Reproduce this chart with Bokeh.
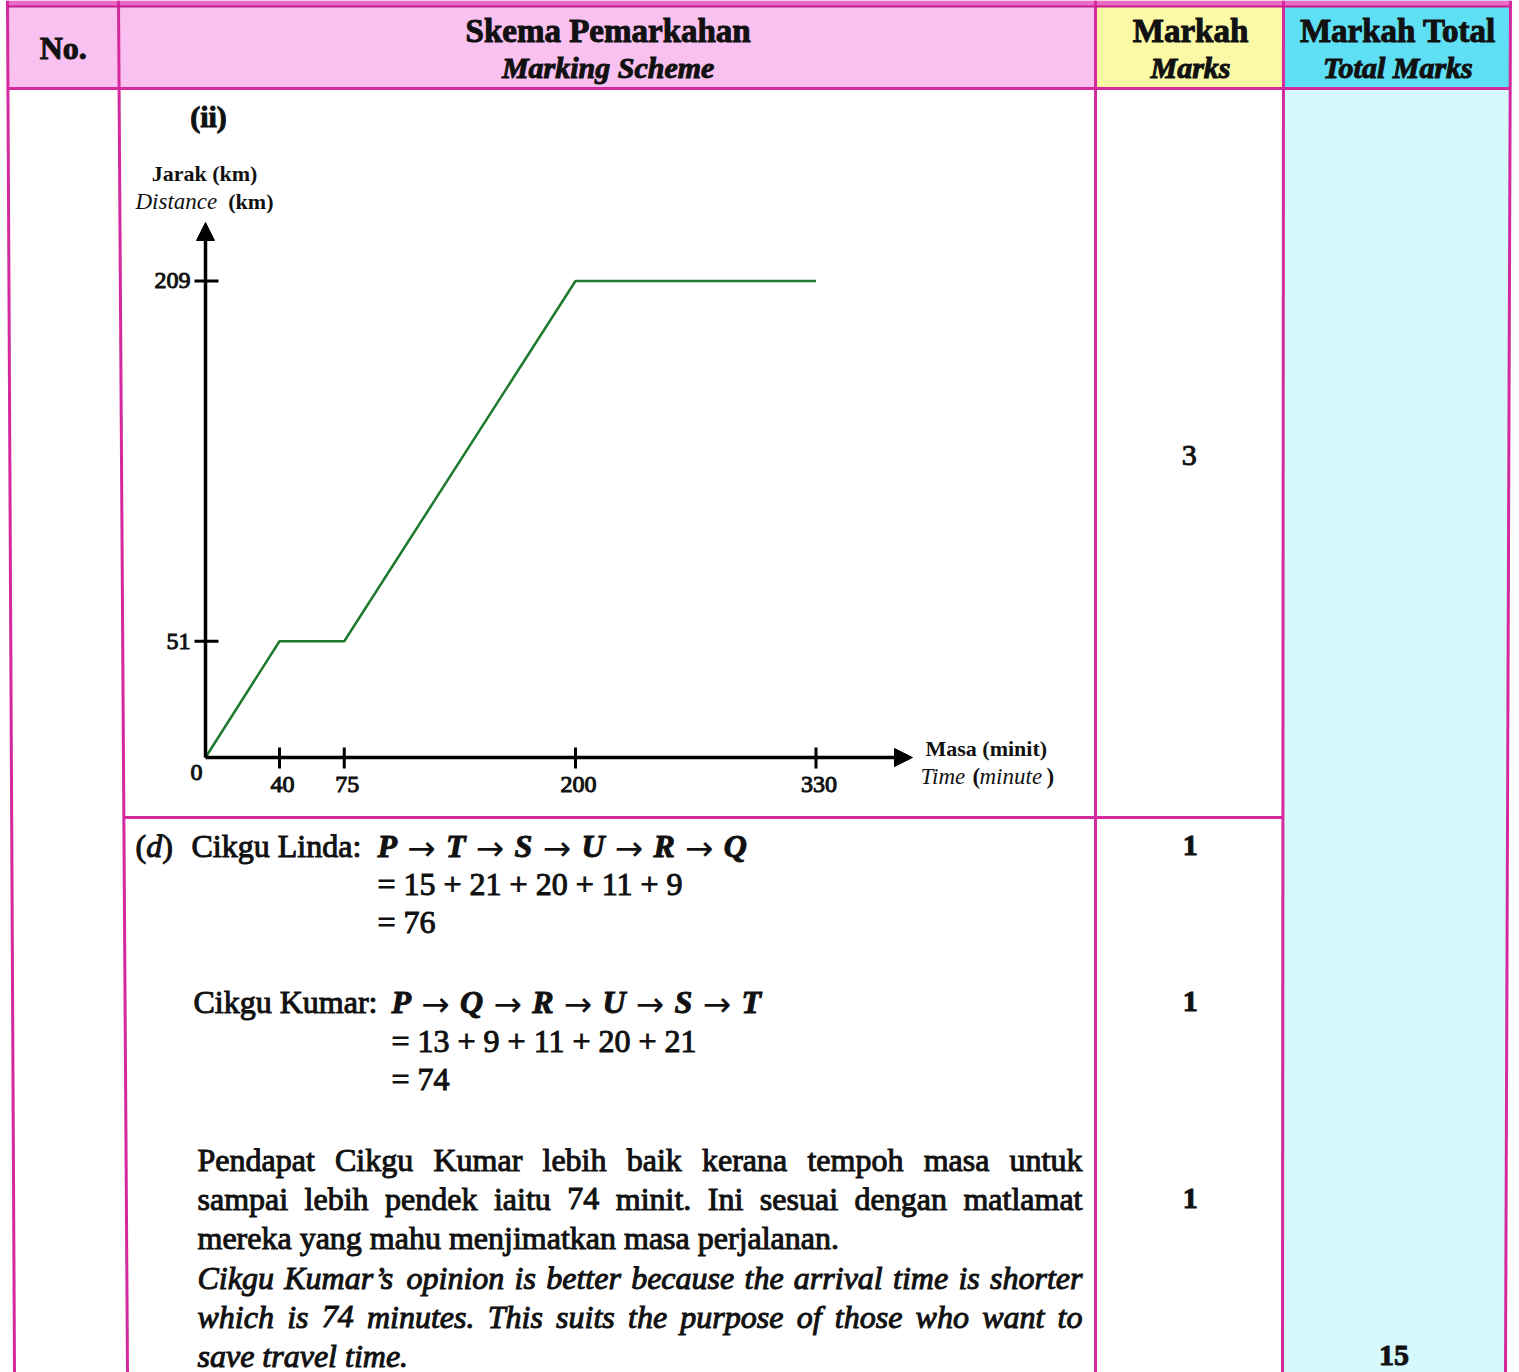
from bokeh.plotting import figure
from bokeh.models import Range1d, Arrow, NormalHead
from bokeh.core.properties import value
from bokeh.embed import file_html
from bokeh.resources import INLINE

# ---------------- data ----------------
# distance-time graph of the journey
time_min = [0, 40, 75, 200, 330]
distance_km = [0, 51, 51, 209, 209]
time_ticks = [40, 75, 200, 330]
distance_ticks = [51, 209]

# routes and the length of each leg
linda_route = ["P", "T", "S", "U", "R", "Q"]
linda_legs = [15, 21, 20, 11, 9]
kumar_route = ["P", "Q", "R", "U", "S", "T"]
kumar_legs = [13, 9, 11, 20, 21]

# marks
graph_marks = 3
step_marks = [1, 1, 1]
total_marks = 15

# header texts
header_bm = ["No.", "Skema Pemarkahan", "Markah", "Markah Total"]
header_en = ["", "Marking Scheme", "Marks", "Total Marks"]

# conclusion paragraph, line by line
para_ms = [
    "Pendapat Cikgu Kumar lebih baik kerana tempoh masa untuk",
    "sampai lebih pendek iaitu 74 minit. Ini sesuai dengan matlamat",
    "mereka yang mahu menjimatkan masa perjalanan.",
]
para_en = [
    "Cikgu Kumar\u2019s opinion is better because the arrival time is shorter",
    "which is 74 minutes. This suits the purpose of those who want to",
    "save travel time.",
]

# ---------------- page geometry ----------------
W, H = 1519, 1372
FONT = "Liberation Serif"
INK = "#111111"
BORDER = "#d42a9e"

# column rules (x at top, x at bottom: the sheet is slightly out of square)
COL_TOP = [7, 118, 1095, 1283, 1510]
COL_BOT = [14, 127, 1095, 1282, 1505]
HEADER_Y = 88
SPLIT_Y = 817


def col_x(i, y):
    return COL_TOP[i] + (COL_BOT[i] - COL_TOP[i]) * y / H


# graph placement: origin in page pixels and pixels per unit
ORIGIN_X, ORIGIN_Y = 205, 757
X_SCALE = 1.85   # px per minute
Y_SCALE = 2.28   # px per km
X_ARROW_TIP = 912
Y_ARROW_TIP = 222

p = figure(width=W, height=H, x_range=Range1d(0, W), y_range=Range1d(H, 0),
           output_backend="svg", toolbar_location=None,
           x_axis_location=None, y_axis_location=None, min_border=0,
           outline_line_color=None, background_fill_color="white",
           border_fill_color="white")
p.xgrid.visible = False
p.ygrid.visible = False

p.extra_x_ranges = {"time": Range1d(-ORIGIN_X / X_SCALE, (W - ORIGIN_X) / X_SCALE)}
p.extra_y_ranges = {"dist": Range1d((ORIGIN_Y - H) / Y_SCALE, ORIGIN_Y / Y_SCALE)}


def band(i0, i1, y0, y1):
    return ([col_x(i0, y0), col_x(i1, y0), col_x(i1, y1), col_x(i0, y1)],
            [y0, y0, y1, y1])


# ---------------- table fills ----------------
fills = [
    (band(0, 2, 0, HEADER_Y), "#f9c1ef"),
    (band(2, 3, 0, HEADER_Y), "#fbf9a6"),
    (band(3, 4, 0, HEADER_Y), "#5fdff3"),
    (band(3, 4, HEADER_Y, H), "#d6f9fc"),
    (band(0, 4, 0, 6), "#e86cc6"),
]
p.patches([f[0][0] for f in fills], [f[0][1] for f in fills],
          fill_color=[f[1] for f in fills], line_color=None)

# ---------------- table rules ----------------
v_xs = [[col_x(i, 0), col_x(i, H)] for i in range(5)]
v_ys = [[0, H] for _ in range(5)]
p.multi_line(v_xs, v_ys, line_color=BORDER, line_width=3)
p.multi_line([[col_x(0, HEADER_Y), col_x(4, HEADER_Y)],
              [col_x(1, SPLIT_Y), col_x(3, SPLIT_Y)]],
             [[HEADER_Y, HEADER_Y], [SPLIT_Y, SPLIT_Y]],
             line_color=BORDER, line_width=3)
p.line([col_x(0, 0), col_x(4, 0)], [6, 6], line_color="#c81d8e", line_width=2)


def put(x, y, s, size, style="normal", align="left", font=FONT, heavy=True, **kw):
    p.text(x=[x], y=[y], text=[s], text_font=value(font),
           text_font_size=f"{size}px", text_font_style=style,
           text_align=align, text_baseline="middle", text_color=INK,
           text_outline_color=INK if heavy else None, **kw)


# ---------------- header ----------------
head_cx = [(col_x(i, 44) + col_x(i + 1, 44)) / 2 for i in range(4)]
put(head_cx[0], 47, header_bm[0], 32, "bold", "center")
for i in range(1, 4):
    put(head_cx[i] + 1, 30, header_bm[i], 33, "bold", "center")
    put(head_cx[i] + 1, 67, header_en[i], 30, "bold italic", "center")

# ---------------- graph ----------------
put(208, 116, "(ii)", 30, "bold", "center")
put(204, 173, "Jarak (km)", 22, "bold", "center", heavy=False)
put(135, 201, "Distance", 23, "italic", heavy=False)
put(273, 201, "(km)", 22, "bold", "right", heavy=False)

head = dict(size=18, fill_color="black", line_color="black")
p.add_layout(Arrow(x_start=0, y_start=0, x_end=(X_ARROW_TIP - ORIGIN_X) / X_SCALE, y_end=0,
                   x_range_name="time", y_range_name="dist", line_width=3.5,
                   line_color="black", end=NormalHead(**head)))
p.add_layout(Arrow(x_start=0, y_start=0, x_end=0, y_end=(ORIGIN_Y - Y_ARROW_TIP) / Y_SCALE,
                   x_range_name="time", y_range_name="dist", line_width=3.5,
                   line_color="black", end=NormalHead(**head)))

# tick marks
n = len(time_ticks)
p.segment(x0=time_ticks, x1=time_ticks, y0=[ORIGIN_Y - 10] * n, y1=[ORIGIN_Y + 11] * n,
          x_range_name="time", line_color="black", line_width=3)
m = len(distance_ticks)
p.segment(x0=[ORIGIN_X - 11] * m, x1=[ORIGIN_X + 13] * m, y0=distance_ticks, y1=distance_ticks,
          y_range_name="dist", line_color="black", line_width=3)

# tick labels
p.text(x=time_ticks, y=[784] * n, text=[str(t) for t in time_ticks],
       x_range_name="time", text_font=value(FONT), text_font_size="24px",
       text_align="center", text_baseline="middle", text_color=INK,
       text_outline_color=INK, x_offset=3)
p.text(x=[ORIGIN_X - 15] * m, y=distance_ticks, text=[str(d) for d in distance_ticks],
       y_range_name="dist", text_font=value(FONT), text_font_size="24px",
       text_align="right", text_baseline="middle", text_color=INK,
       text_outline_color=INK)
put(ORIGIN_X - 9, 772, "0", 24, "normal", "center")

# x axis title
put(925, 748, "Masa (minit)", 22, "bold", heavy=False)
put(920, 776, "Time", 23, "italic", heavy=False)
put(972, 776, "(", 23, "bold", heavy=False)
put(979, 776, "minute", 23, "italic", heavy=False)
put(1046, 776, ")", 23, "bold", heavy=False)

# journey
p.line(time_min, distance_km, x_range_name="time", y_range_name="dist",
       line_color="#1d7a2c", line_width=2.5)

# ---------------- marks column ----------------
mark_x = (col_x(2, 500) + col_x(3, 500)) / 2
put(mark_x, 455, str(graph_marks), 30, "normal", "center")
for y, mk in zip([845, 1001, 1198], step_marks):
    put(mark_x + 1, y, str(mk), 30, "bold", "center")
put((col_x(3, 1355) + col_x(4, 1355)) / 2, 1355, str(total_marks), 30, "bold", "center")

# ---------------- working for (d) ----------------
SIZE = 32
ROMAN = dict(zip("abcdefghijklmnopqrstuvwxyz",
                 [444, 500, 444, 500, 444, 333, 500, 500, 278, 278, 500, 278, 778,
                  500, 500, 500, 500, 333, 389, 278, 500, 500, 722, 500, 500, 444]))
ROMAN.update(zip("ABCDEFGHIJKLMNOPQRSTUVWXYZ",
                 [722, 667, 667, 722, 611, 556, 722, 722, 333, 389, 722, 611, 889,
                  722, 722, 556, 722, 667, 556, 611, 722, 722, 944, 722, 722, 611]))
ITALIC = dict(zip("abcdefghijklmnopqrstuvwxyz",
                  [500, 500, 444, 500, 444, 278, 500, 500, 278, 278, 444, 278, 722,
                   500, 500, 500, 500, 389, 389, 278, 500, 444, 667, 444, 444, 389]))
ITALIC.update(zip("ABCDEFGHIJKLMNOPQRSTUVWXYZ",
                  [611, 611, 667, 722, 611, 611, 722, 722, 333, 444, 667, 556, 833,
                   667, 722, 611, 722, 611, 500, 556, 722, 611, 833, 611, 556, 556]))
BOLD_ITALIC = {"P": 611, "Q": 722, "R": 667, "S": 556, "T": 611, "U": 722}
for tbl in (ROMAN, ITALIC):
    tbl.update({c: 500 for c in "0123456789"})
    tbl.update({" ": 250, ".": 250, ",": 250, ":": 278, "(": 333, ")": 333,
                "\u2019": 333, "=": 564, "+": 564})


def measure(s, tbl, size):
    return sum(tbl.get(c, 500) for c in s) * size / 1000


ARROW_GAP = 49


def route(x, y, stops):
    # stops in bold italic, joined by long thin arrows
    for k, s in enumerate(stops):
        put(x, y, s, SIZE, "bold italic")
        x += measure(s, BOLD_ITALIC, SIZE)
        if k < len(stops) - 1:
            put(x + ARROW_GAP / 2, y + 2, "\u2192", 34, "normal", "center",
                font="DejaVu Sans", heavy=False)
            x += ARROW_GAP


# (d) label with italic letter
put(135, 845, "(", SIZE)
dx = 135 + measure("(", ROMAN, SIZE)
put(dx, 845, "d", SIZE, "italic")
put(dx + measure("d", ITALIC, SIZE), 845, ")", SIZE)

put(191, 845, "Cikgu Linda:", SIZE)
route(377, 845, linda_route)
put(377, 883, "= " + " + ".join(str(v) for v in linda_legs), SIZE)
put(377, 921, "= " + str(sum(linda_legs)), SIZE)

put(193, 1001, "Cikgu Kumar:", SIZE)
route(391, 1001, kumar_route)
put(391, 1040, "= " + " + ".join(str(v) for v in kumar_legs), SIZE)
put(391, 1078, "= " + str(sum(kumar_legs)), SIZE)

# conclusion paragraph, justified between two margins
PX0, PX1 = 197, 1082
LINE_Y = [1159, 1198, 1237, 1277, 1316, 1355]


def justified(line, y, style, tbl, last):
    if last:
        put(PX0, y, line, SIZE, style)
        return
    words = line.split(" ")
    widths = [measure(w, tbl, SIZE) for w in words]
    gap = (PX1 - PX0 - sum(widths)) / (len(words) - 1)
    x = PX0
    for k, (w, wd) in enumerate(zip(words, widths)):
        if k == len(words) - 1:
            put(PX1, y, w, SIZE, style, "right")
        else:
            put(x, y, w, SIZE, style)
        x += wd + gap


for k, line in enumerate(para_ms):
    justified(line, LINE_Y[k], "normal", ROMAN, k == len(para_ms) - 1)
for k, line in enumerate(para_en):
    justified(line, LINE_Y[3 + k], "italic", ITALIC, k == len(para_en) - 1)

open("out.html", "w").write(file_html(p, INLINE))
